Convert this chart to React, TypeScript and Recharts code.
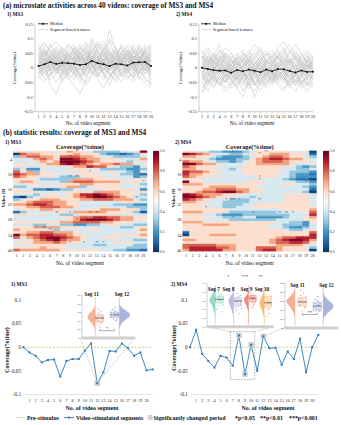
import React from 'react';
import {
  LineChart, Line, XAxis, YAxis, BarChart, Bar, Cell, ComposedChart,
  Scatter, Area, ReferenceLine, ReferenceArea, ReferenceDot,
} from 'recharts';

const FONT = '"Liberation Serif", "Times New Roman", serif';

// ---------- shared categories / ticks ----------
const segments = [1, 2, 3, 4, 5, 6, 7, 8, 9, 10, 11, 12, 13, 14, 15, 16, 17, 18, 19, 20];
const ticksA = [-0.15, -0.1, -0.05, 0, 0.05, 0.1, 0.15];
const ticksC = [-0.1, -0.05, 0, 0.05, 0.1];
const videoTicks = [1, 4, 7, 10, 13, 16, 19, 22, 25, 28, 31, 34, 37, 40];
const barTicks = [0, 0.2, 0.4, 0.6, 0.8, 1];
const insetTicks = [0, 0.2, 0.4, 0.6, 0.8, 1];
const violinGrid = [0.05, 0.1, 0.15, 0.2, 0.25, 0.3, 0.35, 0.4, 0.45, 0.5, 0.55, 0.6, 0.65, 0.7, 0.75, 0.8, 0.85, 0.9, 0.95];

// ---------- (a) segment-based coverage, per video (x0.01) ----------
const ms3Median = [0.006, 0.012, 0.02, 0.013, 0.017, 0.016, 0.014, 0.01, 0.012, 0.024, 0.016, 0.012, 0.006, 0.014, 0.012, 0.008, 0.018, 0.019, 0.02, 0.006];
const ms4Median = [0.0, -0.004, -0.008, -0.01, -0.009, -0.017, -0.007, -0.012, -0.006, -0.01, -0.015, -0.006, -0.012, -0.004, -0.005, -0.011, -0.016, -0.009, -0.014, -0.013];

const ms3Videos = [
  [2, 5, -1, 3, 6, 0, -2, 4, 7, 1, -3, 2, 5, 0, 3, 6, -1, 2, 4, 1],
  [-3, 0, 4, -2, 1, 5, 3, -1, 2, 6, 4, -2, 1, 3, -3, 0, 5, 2, -1, 3],
  [6, 3, 8, 4, 0, 2, 7, 5, 1, -2, 3, 6, 9, 4, 2, -1, 3, 7, 5, 2],
  [0, -4, -2, 1, -5, -1, 2, -3, 0, 4, 1, -2, -6, -1, 3, 0, -4, 1, 2, -3],
  [4, 7, 2, -1, 3, 8, 5, 2, 6, 3, -1, 4, 13, 6, 2, 5, 1, -2, 3, 7],
  [-1, 2, -6, -9, -3, 0, -2, -5, -1, 2, -3, 0, 3, -2, -5, -1, 2, -4, 0, 1],
  [3, 1, 5, 7, 4, 2, 0, 6, 9, 5, 3, 1, 4, 7, 5, 8, 6, 3, 1, 4],
  [1, -2, 0, 4, 2, -3, -6, -9, -4, 0, 2, -1, 3, 0, -2, 1, 4, 2, -1, 0],
  [5, 8, 6, 3, 1, 4, 6, 2, -1, 3, 7, 9, 5, 2, 4, 1, -2, 3, 6, 8],
  [-2, 1, 3, 0, -3, -1, 4, 2, 5, 1, -2, 0, 2, -1, 1, 3, 0, -3, -5, -7],
  [0, 3, 1, 5, 2, -2, 1, 3, 0, 10, 6, 2, -1, 4, 6, 2, 5, 8, 3, 0],
  [7, 4, 2, -1, 5, 3, -2, 0, 4, 2, 8, 5, 1, -3, 0, 2, 6, 4, 1, 5],
  [-4, -1, 2, 4, 0, -3, 1, -2, -5, -2, 1, 3, -1, 2, -2, -4, 0, 3, 5, 2],
  [2, 6, 4, 1, -2, 3, 5, 8, 4, 1, -1, 2, 6, 3, 8, 5, 2, 0, 3, -1],
  [1, -1, -4, -2, 2, 5, 3, 0, -3, 1, 4, -2, -4, 1, 3, -1, -3, 2, 0, -4],
  [3, 5, 7, 9, 6, 2, 4, 1, 3, 5, 2, 7, 4, 6, 1, 3, 7, 5, 8, 6],
  [-2, 0, -3, 1, 4, 2, -1, -4, 2, 6, 3, 0, -2, -5, -2, 1, -1, 4, 2, -2],
  [4, 2, 5, 3, 1, 6, 8, 4, 2, 0, 3, 1, 2, 5, 7, 4, 2, 6, 3, 1],
  [0, 4, -1, -5, -2, 1, -3, 0, 3, -1, -4, -7, -3, 0, 2, -2, 1, -1, -3, -6],
  [6, 9, 5, 2, 7, 4, 1, 5, 3, 8, 5, 2, 10, 7, 3, 6, 4, 1, 5, 3],
  [-1, -3, 0, 2, -1, -4, -2, 1, -3, 0, 2, -1, 1, -2, 0, -3, -5, -2, 1, -1],
  [2, 1, 3, 6, 4, 5, 3, 7, 5, 2, 6, 4, 3, 1, 5, 2, 4, 3, 6, 4],
  [5, 3, 0, -2, 1, -1, 2, 4, 1, -2, 0, 3, -3, -1, 2, 5, 3, 1, -2, 0],
  [-3, -5, -2, 0, -4, -2, 0, -3, -6, -3, -1, 1, -2, -4, -1, -3, -2, 0, -4, -5],
  [1, 4, 6, 3, 5, 8, 6, 3, 5, 7, 4, 1, 3, 5, 2, 4, 8, 6, 3, 2],
  [8, 5, 3, 6, 2, 4, 7, 3, 1, 4, 6, 8, 4, 2, 5, 7, 3, 5, 2, 6],
  [0, 2, -2, -1, 3, 1, -1, 2, 4, 1, -2, -4, 0, 2, -1, 1, 3, 0, -2, 1],
  [3, 0, 2, 5, 1, -1, 3, 6, 2, 5, 9, 6, 2, 4, 7, 3, 0, 2, 4, 3],
  [-2, 1, 4, 2, -1, 2, 0, -2, 1, 3, 0, 2, 5, 3, 0, -2, 2, 4, 1, -1],
  [4, 6, 3, 1, 4, 2, 5, 3, 6, 4, 1, 3, 2, 6, 4, 1, 3, 2, 5, 8],
  [1, 3, -1, 2, 0, 3, 1, -3, -1, 2, 4, 1, -1, 1, -3, 0, 2, -2, 1, 3],
  [2, -1, 1, 4, 7, 5, 2, 4, 8, 3, 1, 5, 3, 0, 4, 6, 3, 7, 4, 2],
  [-1, 2, 5, 3, -2, 0, 4, 1, -2, 1, 3, -3, 1, 4, 1, -1, 1, 3, 6, 4],
  [5, 2, 4, 7, 5, 3, 1, 3, 2, 6, 8, 4, 6, 3, 2, 5, 7, 4, 2, 5],
  [3, 6, 2, 0, 2, 6, 4, 7, 5, 2, 0, 2, 4, 1, 5, 3, 1, 4, 0, 3],
  [0, -2, 1, 3, 1, -2, -4, -1, 1, -1, -3, 0, -2, -1, 1, -1, -3, -1, 2, -2],
  [6, 4, 8, 5, 3, 1, 3, 5, 7, 9, 6, 3, 7, 5, 3, 1, 4, 2, 7, 5],
  [2, 3, 1, -1, 2, 4, 2, 0, 3, 2, 5, 1, 2, -1, 3, 4, 1, 2, 3, 0],
  [1, 0, 3, 2, -1, 3, 6, 2, -1, 4, 2, 6, 1, 3, 5, 2, 6, 3, -1, 2],
  [4, 1, -1, 2, 3, 0, 2, 4, 3, 1, -1, 2, 0, 3, 1, 4, 2, 5, 7, -6],
];

const ms4Videos = [
  [-8, -3, 1, -2, -5, 0, -4, -1, -6, -2, 1, -3, -5, 0, -2, -6, -3, 1, -4, -2],
  [3, 6, 2, -1, 4, 1, -2, 3, 5, 0, -3, 2, 4, 6, 1, -1, 3, 5, 2, -1],
  [-2, -5, -1, 3, 0, -4, -7, -3, 0, -6, -2, 1, -1, -4, -2, 0, -5, -3, -1, -4],
  [5, 2, 4, 8, 3, 0, 2, -1, 3, 6, 4, 1, 3, 0, 5, 8, 4, 2, 0, 3],
  [-1, 1, -3, -6, -2, -4, 0, -2, -5, -1, -3, -6, -2, 1, -1, -3, 0, -2, -5, -3],
  [0, 4, 2, 1, 5, 3, -1, 1, 4, 2, -1, 3, 1, 4, 7, 3, 6, 2, 4, 1],
  [-5, -2, -4, -1, -3, -6, -3, -8, -4, -10, -5, -2, -4, -1, -3, -5, -2, -6, -3, -1],
  [2, -1, 3, 5, 2, -1, 4, 2, 0, 3, 6, 2, -1, 2, 0, 3, 1, -2, 2, 4],
  [-3, -6, -2, 0, -4, -1, -3, 0, 2, -2, -4, -1, -5, -2, -4, -1, -6, -3, 0, -2],
  [4, 1, 5, 2, -1, 3, 1, 4, 6, 3, 0, 2, 5, 3, 1, 6, 3, 0, 3, 5],
  [-6, -4, -7, -3, -5, -2, -4, -6, -2, -5, -8, -4, -2, -5, -3, -6, -4, -7, -5, -3],
  [1, 3, 0, -2, 1, 4, 2, -1, 1, -2, 2, 5, 2, 0, -2, 1, 3, 1, -1, 2],
  [-2, 0, -1, 4, 2, 0, -3, -1, -4, 0, 2, -2, 0, 3, 1, -1, -2, 0, 2, -1],
  [6, 3, 1, 4, 7, 5, 2, 0, 3, 5, 2, 4, 6, 3, 5, 2, 0, 4, 6, 3],
  [-4, -1, -5, -2, 0, -3, -1, -5, -7, -3, -1, -4, -6, -3, -1, -4, -2, -5, -3, -6],
  [0, -2, 2, 0, -3, 1, 3, 1, -2, 1, 4, 0, -2, 1, 3, 0, -3, -1, 1, -1],
  [-9, -5, -3, -6, -4, -7, -5, -3, -6, -4, -2, -5, -3, -6, -8, -4, -6, -3, -5, -7],
  [3, 5, 2, 6, 3, 1, 4, 6, 2, 4, 7, 3, 1, 4, 2, 5, 8, 5, 2, 4],
  [-1, -4, 0, -2, -5, -2, 1, -3, -1, -6, -3, 0, -2, -4, 0, -3, -1, 2, -3, -1],
  [2, 0, 4, 1, -1, 2, 0, 3, 1, -1, 1, 3, 0, 2, 4, 1, -1, 2, 0, 1],
  [-3, -1, -3, 1, -2, -5, -2, 0, 3, -1, -4, -2, 2, -1, -3, 0, 2, -1, -4, -2],
  [1, 2, -1, 3, 5, 2, 3, -1, -3, 2, 0, -3, 1, 5, 3, 1, 4, 2, -2, 0],
  [-5, -8, -4, -6, -2, -4, -7, -10, -5, -3, -6, -3, -5, -2, -4, -7, -4, -2, -6, -4],
  [4, 2, 0, -1, 2, -2, 1, 3, 0, -2, 1, -1, -3, 0, 2, 3, -1, -3, 1, 2],
  [-2, -3, 1, 2, -1, 0, -2, -4, -2, 1, -1, -3, 0, -2, -1, -3, -5, -2, 0, -3],
  [0, 1, 3, 6, 4, 2, 0, 2, 5, 8, 5, 2, 4, 1, -1, 2, 5, 3, 1, -1],
  [-7, -4, -6, -3, -7, -5, -2, -4, -6, -8, -4, -6, -3, -5, -7, -4, -2, -5, -8, -5],
  [2, 4, 1, -2, 0, 3, 5, 2, -1, 0, 3, 1, -1, 2, 0, -2, 1, 4, 2, 0],
  [-1, -2, -4, 0, -3, -1, -4, -2, -3, -5, -2, -4, -1, -3, -5, -2, -3, -6, -2, -4],
  [5, 7, 4, 2, 5, 3, 1, 5, 3, 1, 4, 6, 3, 7, 9, 6, 3, 1, 4, 2],
  [-4, -2, 0, -3, -1, 1, -1, -3, 0, -2, -5, -1, 1, -2, -4, 0, -2, 0, -3, -1],
  [1, -1, 2, 4, 1, -1, 2, -1, -4, -1, 2, 0, -3, 0, 2, -1, 1, -2, 3, 1],
  [-2, 1, -2, -5, -3, -1, -4, -1, 1, -3, 0, -2, -4, -1, -3, -5, -2, 1, -2, -4],
  [3, 0, -2, 1, 3, 0, -2, 1, 3, 0, -1, 2, 1, -1, 1, 3, 0, -2, -1, 1],
  [-8, -6, -3, -5, -8, -6, -3, -5, -2, -6, -4, -7, -5, -2, -4, -6, -8, -4, -6, -5],
  [0, 2, 5, 3, 0, -1, 3, 4, 1, 3, 1, -1, 3, 4, 0, 2, 4, 1, 3, 0],
  [-3, -5, -2, -4, -1, -3, -5, -2, -4, -1, -6, -3, -1, -4, -2, -3, -1, -4, -6, -2],
  [2, 3, 0, 1, 3, 5, 2, 0, 2, 4, 2, 0, -2, 1, 3, 2, 4, 2, 0, 3],
  [-1, 0, -2, -1, 1, -2, -6, -3, -1, -2, 0, -2, -1, -3, -1, -4, -2, -1, 1, -2],
  [4, 1, 3, 0, -2, 1, 3, 5, 2, -1, 3, 5, 2, 4, 6, 2, -1, 3, 5, -1],
];

// ---------- (b) heatmaps: one string per video, one digit (0..9) per segment ----------
const ms3Heat = [
  '55455545655433334459', '07665555565553221235', '36776657776654433334', '44467659987665554446',
  '44456569998765554345', '55545668987656676654', '54445454566877543324', '34224444455453333223',
  '75635444545544544325', '87665554455554453321', '76554543334555444423', '55543333366655554455',
  '56654443677766665554', '44554455556655554453', '33445545663455554444', '54422123344444555542',
  '55554444555566665555', '44435554568898765543', '10344554567899876544', '34556665556677766643',
  '55677766554444445554', '66788766554444433322', '55667776654445444333', '45556655444556665553',
  '13444455566666555531', '55545443345555554444', '44444445567788776655', '44444444568999876655',
  '55555556677776655544', '44433443322334554433', '55566665554444443345', '65554434444554444456',
  '55667766654444444445', '96778877655444455556', '75678998765445554445', '44567897665444444433',
  '55566676554444455544', '44455555444433444433', '55556555444444444333', '76666665555554433221',
];
const ms4Heat = [
  '55443322234555554450', '98765443345556665541', '66554322234567765543', '55543222335678876654',
  '76654332345677765554', '99766544455666665445', '76555444455555544323', '66555443455555544334',
  '87765544455555543332', '86655444455555443221', '76554544444555443222', '55544444444444432110',
  '95544444455544444332', '66655555555544455443', '55556666555444444432', '55566777665544444441',
  '55677899765544444430', '98766655544444455554', '99876554443444445554', '87654443334444455554',
  '66554433334444455554', '55544433344555555554', '55554433445555555555', '55555554444444455556',
  '66655543333333444457', '55544322233333334448', '55554433344222234456', '55544443333333444455',
  '66655555555555443325', '55566665555554433324', '55555555555554432234', '55555555555555543345',
  '15555555555555555557', '05556666555555555558', '55555555555555677888', '66555555555556789986',
  '55555555555556778875', '77777666555555666654', '78888776555777655543', '68888866555788655550',
];
// significance marks [video, segment, text]
const ms3Stars: [number, number, string][] = [
  [1, 10, '*'], [1, 20, '**'], [3, 9, '**'], [9, 12, '*'], [11, 9, '**'], [11, 10, '**'], [13, 20, '*'],
  [19, 13, '**'], [19, 19, '**'], [25, 7, '**'], [25, 9, '*'], [25, 12, '**'], [25, 13, '**'], [25, 20, '**'],
  [28, 10, '*'], [28, 11, '*'], [31, 4, '**'], [31, 5, '***'], [32, 6, '**'], [37, 9, '*'], [37, 11, '*'],
  [37, 13, '**'], [37, 14, '*'],
];
const ms4Stars: [number, number, string][] = [
  [1, 8, '*'], [1, 13, '**'], [2, 12, '*'], [11, 12, '*'], [12, 12, '*'], [13, 19, '*'], [16, 20, '*'],
  [20, 7, '*'], [20, 8, '***'], [20, 9, '*'], [20, 12, '**'], [23, 4, '*'], [25, 11, '*'], [25, 15, '**'],
  [25, 16, '**'], [25, 17, '*'], [27, 8, '*'], [31, 18, '*'], [31, 19, '*'],
];

// ---------- (c) trend of coverage, index 0 = pre-stimulus ----------
const ms3Trend = [0, -0.011, -0.018, -0.032, -0.027, -0.026, -0.062, -0.029, -0.025, -0.025, -0.007, 0.008, -0.076, -0.053, -0.008, -0.009, 0.008, -0.002, -0.018, -0.011, -0.049, -0.047];
const ms4Trend = [0, 0.037, -0.014, -0.029, -0.043, -0.018, -0.022, -0.039, 0.025, -0.057, 0.005, -0.05, 0.023, -0.002, -0.001, -0.037, -0.009, -0.025, 0.018, -0.053, 0, 0.026];
const ms3Changed = [12];
const ms4Changed = [8, 9, 10, 12];

// inset distributions: [x position, normalised coverage]
const ms3Seg11Pts = [[2.8, 0.55], [3.1, 0.6], [3.5, 0.52], [3.9, 0.58], [2.9, 0.48], [3.3, 0.64], [3.7, 0.5], [3.0, 0.7], [3.6, 0.45], [3.2, 0.42], [3.8, 0.62], [2.7, 0.57], [3.4, 0.75], [3.5, 0.38], [3.0, 0.33], [3.9, 0.5], [3.3, 0.53], [2.8, 0.62], [3.6, 0.66], [3.2, 0.47]];
const ms3Seg12Pts = [[5.6, 0.46], [6.0, 0.5], [6.4, 0.44], [6.7, 0.48], [5.5, 0.4], [5.9, 0.55], [6.3, 0.38], [6.6, 0.52], [5.7, 0.33], [6.1, 0.42], [6.5, 0.58], [5.8, 0.47], [6.2, 0.29], [6.0, 0.36], [6.6, 0.41], [5.5, 0.51], [6.3, 0.6], [5.9, 0.45]];
const ms4Seg7Pts = [[1.5, 0.38], [1.7, 0.32], [2.0, 0.41], [2.3, 0.36], [1.6, 0.45], [1.9, 0.29], [2.2, 0.47], [2.4, 0.33], [1.8, 0.52], [2.1, 0.25], [1.5, 0.6], [2.0, 0.35], [2.3, 0.42], [1.7, 0.2], [2.2, 0.66], [1.9, 0.39], [1.6, 0.14], [2.4, 0.5]];
const ms4Seg8Pts = [[4.2, 0.4], [4.5, 0.47], [4.9, 0.36], [5.1, 0.44], [4.3, 0.55], [4.7, 0.31], [5.0, 0.5], [4.4, 0.62], [4.8, 0.42], [4.6, 0.24], [5.2, 0.58], [4.3, 0.35], [4.9, 0.7], [4.5, 0.38], [5.0, 0.28], [4.7, 0.52]];
const ms4Seg9Pts = [[6.5, 0.34], [6.8, 0.38], [7.1, 0.3], [7.3, 0.36], [6.6, 0.42], [6.9, 0.27], [7.2, 0.45], [6.7, 0.31], [7.0, 0.5], [6.5, 0.22], [7.3, 0.4], [6.8, 0.56], [7.1, 0.33], [6.6, 0.29], [7.0, 0.37], [6.9, 0.45]];
const ms4Seg10Pts = [[8.8, 0.45], [9.1, 0.52], [9.4, 0.4], [9.6, 0.48], [8.9, 0.33], [9.2, 0.6], [9.5, 0.3], [8.7, 0.55], [9.0, 0.42], [9.3, 0.7], [9.6, 0.36], [8.8, 0.25], [9.1, 0.47], [9.4, 0.58], [9.0, 0.18], [9.5, 0.5], [9.2, 0.38], [8.9, 0.76]];
const ms4Seg11Pts = [[2.8, 0.42], [3.1, 0.38], [3.5, 0.46], [3.9, 0.4], [2.7, 0.5], [3.3, 0.33], [3.7, 0.55], [3.0, 0.28], [3.6, 0.44], [3.2, 0.62], [3.9, 0.3], [2.8, 0.35], [3.4, 0.72], [3.5, 0.22], [3.0, 0.48], [3.8, 0.52], [3.3, 0.41], [2.9, 0.16]];
const ms4Seg12Pts = [[5.6, 0.5], [6.0, 0.54], [6.4, 0.47], [6.7, 0.52], [5.5, 0.44], [5.9, 0.6], [6.3, 0.41], [6.6, 0.57], [5.7, 0.36], [6.1, 0.49], [6.5, 0.63], [5.8, 0.46], [6.2, 0.3], [6.0, 0.39], [6.6, 0.45], [5.5, 0.55], [6.3, 0.58], [5.9, 0.51]];

// density profiles on violinGrid
const ms3Seg11Dens = [0, 0, 0, 0, 0.05, 0.15, 0.35, 0.6, 0.85, 1, 0.95, 0.75, 0.5, 0.3, 0.15, 0.05, 0, 0, 0];
const ms3Seg12Dens = [0, 0, 0, 0, 0.08, 0.25, 0.5, 0.8, 1, 0.95, 0.7, 0.45, 0.25, 0.12, 0.04, 0, 0, 0, 0];
const ms4Seg7Dens = [0, 0, 0.1, 0.25, 0.45, 0.7, 0.95, 1, 0.85, 0.6, 0.45, 0.3, 0.2, 0.12, 0.05, 0, 0, 0, 0];
const ms4Seg8Dens = [0, 0, 0, 0.1, 0.3, 0.55, 0.8, 1, 0.9, 0.75, 0.55, 0.4, 0.25, 0.15, 0.05, 0, 0, 0, 0];
const ms4Seg9Dens = [0, 0, 0, 0.1, 0.3, 0.65, 0.95, 1, 0.8, 0.55, 0.35, 0.2, 0.08, 0, 0, 0, 0, 0, 0];
const ms4Seg10Dens = [0, 0, 0.05, 0.15, 0.3, 0.5, 0.7, 0.85, 1, 0.9, 0.75, 0.55, 0.4, 0.25, 0.12, 0.05, 0, 0, 0];
const ms4Seg11Dens = [0, 0, 0.05, 0.15, 0.35, 0.6, 0.85, 1, 0.9, 0.7, 0.5, 0.35, 0.2, 0.1, 0.05, 0, 0, 0, 0];
const ms4Seg12Dens = [0, 0, 0, 0, 0.05, 0.15, 0.35, 0.6, 0.85, 1, 0.95, 0.75, 0.5, 0.3, 0.12, 0.04, 0, 0, 0];

// ---------- colours ----------
const rdbu = ['#053061', '#2166ac', '#4393c3', '#92c5de', '#d1e5f0', '#f7f7f7', '#fddbc7', '#f4a582', '#d6604d', '#b2182b', '#67001f'];
const mix = (a: string, b: string, f: number) => {
  const pa = [1, 3, 5].map((i) => parseInt(a.slice(i, i + 2), 16));
  const pb = [1, 3, 5].map((i) => parseInt(b.slice(i, i + 2), 16));
  return 'rgb(' + pa.map((v, i) => Math.round(v + (pb[i] - v) * f)).join(',') + ')';
};
const heatColor = (t: number) => {
  const p = Math.max(0, Math.min(0.999, t)) * 10;
  const i = Math.floor(p);
  return mix(rdbu[i], rdbu[i + 1], p - i);
};
// digit level -> position on the colour bar (spreads the pale middle a little)
const levelToT = (d: number) => {
  const x = (d - 4.5) / 4.5;
  return 0.5 + Math.sign(x) * Math.pow(Math.abs(x), 0.78) * 0.47;
};
const BLUE = '#2b7bba';
const GREEN = '#a8cf5b';

const tickStyle = (size: number, weight = 'normal') => ({ fontSize: size, fill: '#222', fontFamily: FONT, fontWeight: weight });

// ---------- (a) ----------
function SegmentPanel({ left, videos, median, yw, width, padL }: any) {
  const data = segments.map((s, i) => {
    const row: any = { seg: s, m: median[i] };
    videos.forEach((v: number[], k: number) => (row['l' + k] = v[i] / 100));
    return row;
  });
  return (
    <div style={{ position: 'absolute', left, top: 0 }}>
      <LineChart width={width} height={123.7} data={data} margin={{ top: 24, right: 4, bottom: 0, left: 0 }}>
        <XAxis type="number" dataKey="seg" domain={[1, 20]} ticks={segments} interval={0} padding={{ left: padL, right: 0 }}
          height={12} tick={tickStyle(4.3)} tickSize={1.5} tickMargin={1.8}
          axisLine={{ stroke: '#9a9a9a', strokeWidth: 0.5 }} tickLine={{ stroke: '#9a9a9a', strokeWidth: 0.4 }} />
        <YAxis type="number" domain={[-0.15, 0.15]} ticks={ticksA} width={yw} tick={tickStyle(4.3)} tickSize={1.5} tickMargin={0.6}
          axisLine={{ stroke: '#9a9a9a', strokeWidth: 0.5 }} tickLine={{ stroke: '#9a9a9a', strokeWidth: 0.4 }} />
        {videos.map((_: any, k: number) => (
          <Line key={k} dataKey={'l' + k} type="linear" stroke="#c2c2c2" strokeWidth={0.5} dot={false} isAnimationActive={false} />
        ))}
        <Line dataKey="m" type="linear" stroke="#111" strokeWidth={0.9} dot={{ r: 1, fill: '#111', stroke: 'none' }} isAnimationActive={false} />
      </LineChart>
    </div>
  );
}

// ---------- (b) ----------
function Heatmap({ left, grid, stars, yw }: any) {
  const starMap: Record<string, string> = {};
  stars.forEach(([r, c, t]: any) => (starMap[`${r - 1}-${c - 1}`] = t));
  const data = segments.map((s) => {
    const row: any = { seg: s };
    grid.forEach((_: string, r: number) => (row['r' + r] = 1));
    return row;
  });
  return (
    <div style={{ position: 'absolute', left, top: 140 }}>
      <BarChart width={yw + 133.4 + 3.3} height={121.6} data={data} barCategoryGap={0} barGap={0}
        margin={{ top: 10.4, right: 3.3, bottom: 0, left: 0 }}>
        <XAxis dataKey="seg" interval={0} height={10} tick={tickStyle(4)} tickLine={false} tickSize={0} tickMargin={3} axisLine={false} />
        <YAxis type="number" domain={[0, 40]} reversed allowDataOverflow ticks={videoTicks.map((v) => v - 0.5)}
          tickFormatter={(v: number) => String(v + 0.5)} width={yw} tick={tickStyle(4.3)} tickLine={false} tickSize={0} tickMargin={1.2} axisLine={false} />
        {grid.map((row: string, r: number) => (
          <Bar key={r} dataKey={'r' + r} stackId="h" isAnimationActive={false}
            label={(p: any) => {
              const t = starMap[`${r}-${p.index}`];
              if (!t) return <g />;
              return (
                <text x={p.x + p.width / 2} y={p.y + p.height / 2 + 1.3} textAnchor="middle" fontSize={3.4} fill="#1a1a1a" fontFamily={FONT}>{t}</text>
              );
            }}>
            {segments.map((_, c) => {
              const col = heatColor(levelToT(Number(row[c] ?? '5')));
              return <Cell key={c} fill={col} stroke={col} strokeWidth={0.4} />;
            })}
          </Bar>
        ))}
      </BarChart>
    </div>
  );
}

function ColorBar({ left, id }: any) {
  return (
    <div style={{ position: 'absolute', left, top: 149 }}>
      <BarChart width={15} height={105} data={[{ v: 1 }]} barCategoryGap={0} margin={{ top: 2, right: 0, bottom: 2, left: 0 }}>
        <defs>
          <linearGradient id={id} x1="0" y1="1" x2="0" y2="0">
            {rdbu.map((c, i) => <stop key={i} offset={`${i * 10}%`} stopColor={c} />)}
          </linearGradient>
        </defs>
        <XAxis dataKey="v" hide />
        <YAxis orientation="right" type="number" domain={[0, 1]} ticks={barTicks} width={9.5} tickFormatter={(v: number) => v.toFixed(1)}
          tick={tickStyle(3.6)} tickSize={1} tickMargin={0.5} axisLine={false} tickLine={{ stroke: '#333', strokeWidth: 0.3 }} />
        <Bar dataKey="v" fill={`url(#${id})`} stroke="#444" strokeWidth={0.3} isAnimationActive={false} />
      </BarChart>
    </div>
  );
}

// ---------- (c) ----------
function TrendPanel({ left, values, changed, yw, width, box, links }: any) {
  const data = values.map((v: number, i: number) => ({ seg: i, v }));
  const marks = changed.map((s: number) => ({ seg: s, v: values[s] }));
  return (
    <div style={{ position: 'absolute', left, top: 280 }}>
      <ComposedChart width={width} height={128.5} data={data} margin={{ top: 20, right: 3, bottom: 0, left: 0 }}>
        <XAxis type="number" dataKey="seg" domain={[0, 21]} ticks={segments} interval={0} height={14} tick={tickStyle(4.1)}
          tickLine={false} tickSize={0} tickMargin={5} axisLine={{ stroke: '#c8c8c8', strokeWidth: 0.5 }} />
        <YAxis type="number" dataKey="v" domain={[-0.1, 0.1]} ticks={ticksC} width={yw} tick={tickStyle(5.2)}
          tickLine={false} tickSize={0} tickMargin={2.3} axisLine={false} />
        {box && (
          <ReferenceArea x1={box[0]} x2={box[1]} y1={box[2]} y2={box[3]} fill="none" fillOpacity={0}
            stroke="#666" strokeWidth={0.5} strokeDasharray="1.6 1.2" />
        )}
        {links.map((s: any, i: number) => (
          <ReferenceLine key={i} segment={s} stroke="#8a8a8a" strokeWidth={0.5} strokeDasharray="1.6 1.2" ifOverflow="visible" />
        ))}
        <ReferenceLine y={0} stroke={GREEN} strokeWidth={0.8} strokeDasharray="2.2 1.5" />
        <Scatter data={marks} isAnimationActive={false}
          shape={(p: any) => <rect x={p.cx - 2.6} y={p.cy - 2.6} width={5.2} height={5.2} fill="#c6c6c6" />} />
        <Line dataKey="v" type="linear" stroke={BLUE} strokeWidth={0.9} isAnimationActive={false}
          dot={(p: any) => <rect key={`d${p.index}`} x={p.cx - 1} y={p.cy - 1} width={2} height={2} fill={BLUE} />} />
      </ComposedChart>
    </div>
  );
}

type Group = { color: string; pts: number[][]; dens: number[]; flat: number; spread: number; side: number; box: number[]; median: number };

function Inset({ left, top, width, height, mTop, groups, brackets, starsInside }: any) {
  const data = violinGrid.map((v, i) => {
    const row: any = { v };
    groups.forEach((g: Group, k: number) => {
      const d = g.dens[i] * g.spread;
      row['g' + k] = g.side < 0 ? [g.flat - d, g.flat] : [g.flat, g.flat + d];
    });
    return row;
  });
  return (
    <div style={{ position: 'absolute', left, top }}>
      <ComposedChart layout="vertical" width={width} height={height} data={data} margin={{ top: mTop, right: 1, bottom: 0, left: 0 }}>
        <XAxis type="number" dataKey="x" domain={[0, 10]} allowDataOverflow tick={false} tickLine={false} height={2}
          axisLine={{ stroke: '#cfcfcf', strokeWidth: 3 }} />
        <YAxis type="number" dataKey="v" domain={[0, 1]} allowDataOverflow ticks={insetTicks} width={6}
          tickFormatter={(v: number) => v.toFixed(1)} tick={tickStyle(2.6)} tickSize={1} tickMargin={0.4}
          axisLine={{ stroke: '#8a8a8a', strokeWidth: 0.4 }} tickLine={{ stroke: '#8a8a8a', strokeWidth: 0.3 }} />
        {groups.map((g: Group, k: number) => (
          <Area key={'a' + k} dataKey={'g' + k} type="monotone" fill={g.color} fillOpacity={0.85} stroke={g.color}
            strokeWidth={0.3} isAnimationActive={false} />
        ))}
        {groups.map((g: Group, k: number) => (
          <ReferenceArea key={'b' + k} x1={g.box[0]} x2={g.box[1]} y1={g.box[2]} y2={g.box[3]} fill={g.color}
            fillOpacity={0.25} stroke={g.color} strokeWidth={0.4} />
        ))}
        {groups.map((g: Group, k: number) => (
          <Scatter key={'s' + k} data={g.pts.map(([x, v]) => ({ x, v }))} isAnimationActive={false}
            shape={(p: any) => <circle cx={p.cx} cy={p.cy} r={0.75} fill={g.color} stroke="#fff" strokeWidth={0.15} />} />
        ))}
        {groups.map((g: Group, k: number) => (
          <ReferenceLine key={'m' + k} segment={[{ x: g.box[0], y: g.median }, { x: g.box[1], y: g.median }]}
            stroke="#1a1a1a" strokeWidth={0.8} />
        ))}
        {brackets.map((b: any, k: number) => (
          <ReferenceLine key={'h' + k} segment={[{ x: b.a, y: b.y }, { x: b.b, y: b.y }]} stroke="#333" strokeWidth={0.4} ifOverflow="visible" />
        ))}
        {brackets.map((b: any, k: number) => (
          <ReferenceLine key={'l' + k} segment={[{ x: b.a, y: b.y }, { x: b.a, y: b.y - 0.04 }]} stroke="#333" strokeWidth={0.4} ifOverflow="visible" />
        ))}
        {brackets.map((b: any, k: number) => (
          <ReferenceLine key={'r' + k} segment={[{ x: b.b, y: b.y }, { x: b.b, y: b.y - 0.04 }]} stroke="#333" strokeWidth={0.4} ifOverflow="visible" />
        ))}
        {starsInside && brackets.map((b: any, k: number) => (
          <ReferenceDot key={'t' + k} x={(b.a + b.b) / 2} y={b.y} r={0} fill="none" stroke="none"
            label={{ value: b.t, position: 'top', offset: 0.3, fontSize: 4.2, fill: '#111', fontFamily: FONT }} />
        ))}
      </ComposedChart>
    </div>
  );
}

const ORANGE = '#f3a283';
const LAVENDER = '#9aa6d6';

const ms3Groups: Group[] = [
  { color: ORANGE, pts: ms3Seg11Pts, dens: ms3Seg11Dens, flat: 2.5, spread: 1.4, side: -1, box: [2.5, 4.05, 0.46, 0.63], median: 0.535 },
  { color: LAVENDER, pts: ms3Seg12Pts, dens: ms3Seg12Dens, flat: 7.0, spread: 2.0, side: 1, box: [5.3, 6.9, 0.4, 0.52], median: 0.46 },
];
const ms4LeftGroups: Group[] = [
  { color: '#86d2bc', pts: ms4Seg7Pts, dens: ms4Seg7Dens, flat: 1.25, spread: 0.85, side: -1, box: [1.25, 2.5, 0.3, 0.45], median: 0.37 },
  { color: '#b9a9df', pts: ms4Seg8Pts, dens: ms4Seg8Dens, flat: 4.0, spread: 0.75, side: -1, box: [4.05, 5.2, 0.33, 0.52], median: 0.41 },
  { color: '#ef7565', pts: ms4Seg9Pts, dens: ms4Seg9Dens, flat: 6.25, spread: 0.65, side: -1, box: [6.35, 7.4, 0.28, 0.42], median: 0.345 },
  { color: '#f6b25f', pts: ms4Seg10Pts, dens: ms4Seg10Dens, flat: 8.6, spread: 0.7, side: -1, box: [8.6, 9.7, 0.3, 0.55], median: 0.45 },
];
const ms4RightGroups: Group[] = [
  { color: ORANGE, pts: ms4Seg11Pts, dens: ms4Seg11Dens, flat: 1.9, spread: 1.6, side: -1, box: [2.45, 4.1, 0.33, 0.52], median: 0.42 },
  { color: LAVENDER, pts: ms4Seg12Pts, dens: ms4Seg12Dens, flat: 7.2, spread: 1.9, side: 1, box: [5.3, 6.9, 0.43, 0.62], median: 0.51 },
];

// ---------- text overlay ----------
function Txt({ x, y, s, b, a = 'start', r, children, w }: any) {
  return (
    <text x={x} y={y} fontSize={s} fontWeight={b ? 'bold' : w || 'normal'} textAnchor={a} fill="#111"
      transform={r ? `rotate(-90 ${x} ${y})` : undefined} dominantBaseline={r ? 'middle' : undefined}>{children}</text>
  );
}

function Overlay() {
  return (
    <svg width={341} height={425} style={{ position: 'absolute', left: 0, top: 0, pointerEvents: 'none' }} fontFamily={FONT}>
      <Txt x={3} y={7.6} s={7.3} b>(a) microstate activities across 40 videos: coverage of MS3 and MS4</Txt>
      <Txt x={7} y={16.3} s={5.2} b>1) MS3</Txt>
      <Txt x={176} y={16.3} s={5.2} b>2) MS4</Txt>

      <line x1={38} y1={23.8} x2={48} y2={23.8} stroke="#111" strokeWidth={0.8} />
      <circle cx={43} cy={23.8} r={1.1} fill="#111" />
      <Txt x={50} y={25.3} s={4.2}>Median</Txt>
      <line x1={38} y1={29.6} x2={48} y2={29.6} stroke="#bdbdbd" strokeWidth={0.6} />
      <Txt x={50} y={31.1} s={4.2}>Segment-based features</Txt>
      <line x1={201} y1={23.8} x2={211} y2={23.8} stroke="#111" strokeWidth={0.8} />
      <circle cx={206} cy={23.8} r={1.1} fill="#111" />
      <Txt x={213} y={25.3} s={4.2}>Median</Txt>
      <line x1={201} y1={29.6} x2={211} y2={29.6} stroke="#bdbdbd" strokeWidth={0.6} />
      <Txt x={213} y={31.1} s={4.2}>Segment-based features</Txt>

      <Txt x={15} y={68} s={4.5} a="middle" r>Coverage(%time)</Txt>
      <Txt x={181} y={68} s={4.5} a="middle" r>Coverage(%time)</Txt>
      <Txt x={88} y={125.3} s={5.2} a="middle">No. of video segment</Txt>
      <Txt x={252} y={125.3} s={5.2} a="middle">No. of video segment</Txt>

      <Txt x={3} y={134.6} s={7.3} b>(b) statistic results: coverage of MS3 and MS4</Txt>
      <Txt x={5} y={143.6} s={5.2} b>1) MS3</Txt>
      <Txt x={175} y={143.6} s={5.2} b>2) MS4</Txt>
      <Txt x={80} y={149} s={6.3} a="middle" w={600}>Coverage(%time)</Txt>
      <Txt x={249.7} y={149} s={6.3} a="middle" w={600}>Coverage(%time)</Txt>
      <Txt x={4} y={198} s={5} a="middle" r b>Video ID</Txt>
      <Txt x={174} y={198} s={5} a="middle" r b>Video ID</Txt>
      <Txt x={80} y={265} s={5.6} a="middle">No. of video segment</Txt>
      <Txt x={249.7} y={265} s={5.6} a="middle">No. of video segment</Txt>

      <Txt x={11} y={285.6} s={5.2} b>1) MS3</Txt>
      <Txt x={171} y={285.6} s={5.2} b>2) MS4</Txt>
      <Txt x={8} y={350} s={6} a="middle" r b>Coverage(%time)</Txt>
      <Txt x={174.5} y={348} s={6} a="middle" r b>Coverage(%time)</Txt>
      <Txt x={92} y={410.2} s={6} a="middle" b>No. of video segment</Txt>
      <Txt x={268} y={410.2} s={6} a="middle" b>No. of video segment</Txt>

      <Txt x={91.7} y={295.5} s={5.3} a="middle" b>Seg 11</Txt>
      <Txt x={122} y={295.5} s={5.3} a="middle" b>Seg 12</Txt>
      <Txt x={214} y={290.8} s={5.3} a="middle" b>Seg 7</Txt>
      <Txt x={228.5} y={290.8} s={5.3} a="middle" b>Seg 8</Txt>
      <Txt x={246.5} y={290.8} s={5.3} a="middle" b>Seg 9</Txt>
      <Txt x={262} y={290.8} s={5.3} a="middle" b>Seg 10</Txt>
      <Txt x={297.5} y={286.8} s={5.3} a="middle" b>Seg 11</Txt>
      <Txt x={326.5} y={286.8} s={5.3} a="middle" b>Seg 12</Txt>
      <Txt x={228.4} y={278.4} s={4.2} a="middle">*</Txt>
      <Txt x={245.2} y={278.4} s={4.2} a="middle">***</Txt>
      <Txt x={260.5} y={278.4} s={4.2} a="middle">**</Txt>

      <line x1={17} y1={417.6} x2={25} y2={417.6} stroke={GREEN} strokeWidth={0.9} strokeDasharray="1.6 1" />
      <Txt x={27} y={419.6} s={5.9} b>Pre-stimulus</Txt>
      <line x1={64} y1={417.6} x2={74} y2={417.6} stroke={BLUE} strokeWidth={0.9} />
      <rect x={68} y={416.6} width={2} height={2} fill={BLUE} />
      <Txt x={76} y={419.6} s={5.9} b>Video-stimulated segments</Txt>
      <rect x={148.5} y={415.6} width={3.6} height={3.6} fill="#d0d0d0" stroke="#999" strokeWidth={0.3} />
      <Txt x={153.5} y={419.6} s={5.9} b>Significantly changed period</Txt>
      <Txt x={235} y={419.6} s={5.9} b>*p&lt;0.05</Txt>
      <Txt x={260} y={419.6} s={5.9} b>**p&lt;0.01</Txt>
      <Txt x={289} y={419.6} s={5.9} b>***p&lt;0.001</Txt>
    </svg>
  );
}

export default function App() {
  return (
    <div style={{ position: 'absolute', left: 0, top: 0, width: 341, height: 425, background: '#fff', overflow: 'hidden', fontFamily: FONT }}>
      <SegmentPanel left={0} videos={ms3Videos} median={ms3Median} yw={35} width={155} padL={3.5} />
      <SegmentPanel left={165} videos={ms4Videos} median={ms4Median} yw={34} width={152} padL={3} />

      <Heatmap left={0} grid={ms3Heat} stars={ms3Stars} yw={13.3} />
      <ColorBar left={153} id="cb1" />
      <Heatmap left={165} grid={ms4Heat} stars={ms4Stars} yw={17.7} />
      <ColorBar left={323} id="cb2" />

      <TrendPanel left={0} values={ms3Trend} changed={ms3Changed} yw={23.3} width={155.7}
        links={[
          [{ x: 12, y: -0.076 }, { x: 9.2, y: 0.02 }],
          [{ x: 12, y: -0.076 }, { x: 18.1, y: 0.02 }],
        ]} />
      <TrendPanel left={165} values={ms4Trend} changed={ms4Changed} yw={25} width={156.3}
        box={[6.6, 10.6, -0.068, 0.033]}
        links={[
          [{ x: 6.6, y: 0.033 }, { x: 2.73, y: 0.044 }],
          [{ x: 10.6, y: 0.033 }, { x: 13.6, y: 0.044 }],
          [{ x: 12, y: 0.023 }, { x: 15.5, y: 0.041 }],
        ]} />

      <Inset left={75.7} top={290} width={60.3} height={50} mTop={5} groups={ms3Groups} starsInside
        brackets={[{ a: 3.3, b: 6.1, y: 0.83, t: '*' }]} />
      <Inset left={200.7} top={276} width={73.6} height={52.7} mTop={7.3} groups={ms4LeftGroups}
        brackets={[
          { a: 1.9, b: 4.6, y: 1.09, t: '*' },
          { a: 4.6, b: 6.9, y: 1.09, t: '***' },
          { a: 6.9, b: 9.15, y: 1.09, t: '**' },
        ]} />
      <Inset left={279} top={278} width={60} height={52} mTop={5} groups={ms4RightGroups} starsInside
        brackets={[{ a: 3.3, b: 6.1, y: 0.7, t: '**' }]} />

      <Overlay />
    </div>
  );
}
